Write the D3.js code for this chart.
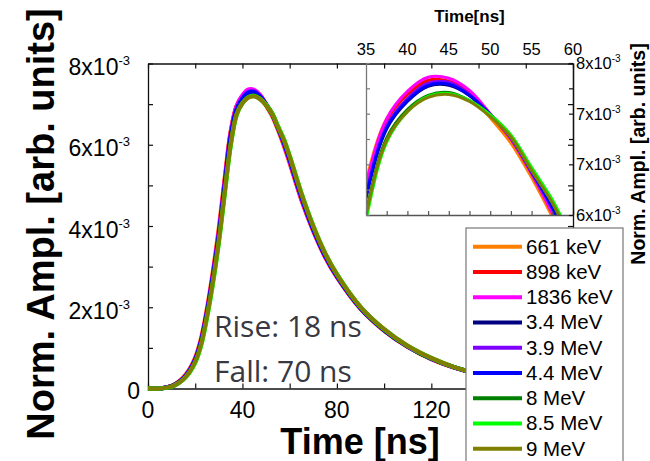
<!DOCTYPE html>
<html>
<head>
<meta charset="utf-8">
<script src="https://cdn.jsdelivr.net/npm/d3@7"></script>
<style>
  html, body { margin: 0; padding: 0; background: #fff; }
  svg { display: block; }
</style>
</head>
<body>
<svg id="chart" width="650" height="461"></svg>
<script>
// Pulse shapes of the detector response, normalised amplitude in units of 10^-3
const timeNs = [0, 5, 10, 12.5, 15, 17.5, 20, 22.5, 25, 27.5, 30, 32.5, 35, 37.5, 40, 42.5, 45, 47.5, 50,
  52.5, 55, 57.5, 60, 65, 70, 75, 80, 90, 100, 110, 120, 130, 140, 150, 160, 170, 180];

const amp661keV = [0, 0, 0.065, 0.15, 0.28, 0.47, 0.76, 1.25, 1.98, 2.90, 3.96, 5.19, 6.33, 6.95, 7.19, 7.32, 7.30, 7.18, 6.96,
  6.71, 6.37, 5.98, 5.54, 4.63, 3.87, 3.23, 2.74, 1.96, 1.42, 1.02, 0.72, 0.51, 0.355, 0.25, 0.175, 0.12, 0.085];
const amp898keV = [0, 0, 0.06, 0.14, 0.26, 0.45, 0.73, 1.20, 1.92, 2.82, 3.86, 5.10, 6.28, 6.93, 7.19, 7.33, 7.32, 7.21, 6.99,
  6.75, 6.41, 6.02, 5.58, 4.66, 3.89, 3.25, 2.75, 1.97, 1.43, 1.03, 0.73, 0.51, 0.355, 0.25, 0.175, 0.12, 0.085];
const amp1836keV = [0, 0, 0.06, 0.14, 0.26, 0.45, 0.73, 1.19, 1.91, 2.81, 3.85, 5.10, 6.29, 6.95, 7.22, 7.36, 7.35, 7.23, 7.00,
  6.75, 6.41, 6.02, 5.58, 4.66, 3.89, 3.25, 2.75, 1.97, 1.43, 1.03, 0.73, 0.51, 0.355, 0.25, 0.175, 0.12, 0.085];
const amp3_4MeV = [0, 0, 0.055, 0.13, 0.245, 0.43, 0.70, 1.15, 1.85, 2.73, 3.75, 4.97, 6.17, 6.85, 7.12, 7.27, 7.28, 7.18, 6.99,
  6.77, 6.44, 6.08, 5.65, 4.73, 3.93, 3.28, 2.77, 1.98, 1.44, 1.035, 0.735, 0.515, 0.357, 0.25, 0.177, 0.12, 0.087];
const amp3_9MeV = [0, 0, 0.056, 0.132, 0.248, 0.435, 0.71, 1.16, 1.87, 2.76, 3.78, 5.00, 6.20, 6.88, 7.15, 7.30, 7.31, 7.19, 6.99,
  6.76, 6.42, 6.06, 5.63, 4.71, 3.92, 3.27, 2.77, 1.98, 1.44, 1.035, 0.735, 0.515, 0.357, 0.25, 0.177, 0.12, 0.087];
const amp4_4MeV = [0, 0, 0.055, 0.13, 0.245, 0.43, 0.70, 1.15, 1.86, 2.74, 3.76, 4.98, 6.18, 6.86, 7.13, 7.28, 7.29, 7.18, 6.99,
  6.77, 6.43, 6.07, 5.64, 4.72, 3.93, 3.28, 2.77, 1.98, 1.44, 1.035, 0.735, 0.515, 0.357, 0.25, 0.177, 0.12, 0.087];
const amp8MeV = [0, 0, 0.05, 0.12, 0.23, 0.40, 0.66, 1.10, 1.80, 2.65, 3.66, 4.86, 6.02, 6.76, 7.04, 7.18, 7.21, 7.13, 6.98,
  6.77, 6.44, 6.12, 5.70, 4.78, 3.98, 3.32, 2.80, 2.00, 1.45, 1.04, 0.74, 0.52, 0.36, 0.25, 0.18, 0.12, 0.09];
const amp8_5MeV = [0, 0, 0.045, 0.11, 0.22, 0.38, 0.63, 1.05, 1.73, 2.57, 3.57, 4.77, 5.95, 6.72, 7.02, 7.17, 7.20, 7.13, 6.99,
  6.79, 6.47, 6.15, 5.74, 4.82, 4.01, 3.34, 2.82, 2.01, 1.46, 1.05, 0.75, 0.52, 0.36, 0.25, 0.18, 0.12, 0.09];
const amp9MeV = [0, 0, 0.05, 0.12, 0.23, 0.40, 0.66, 1.09, 1.79, 2.64, 3.64, 4.84, 6.00, 6.74, 7.02, 7.16, 7.19, 7.12, 6.97,
  6.77, 6.44, 6.12, 5.71, 4.79, 3.99, 3.33, 2.81, 2.01, 1.46, 1.05, 0.75, 0.52, 0.36, 0.25, 0.18, 0.12, 0.09];

const seriesLabels = ["661 keV", "898 keV", "1836 keV", "3.4 MeV", "3.9 MeV", "4.4 MeV", "8 MeV", "8.5 MeV", "9 MeV"];
const seriesValues = [amp661keV, amp898keV, amp1836keV, amp3_4MeV, amp3_9MeV, amp4_4MeV, amp8MeV, amp8_5MeV, amp9MeV];
const seriesColors = ["#ff8000", "#ff0000", "#ff00ff", "#000080", "#8000ff", "#0000ff", "#008000", "#00ff00", "#808000"];

const mainXTicks = [0, 40, 80, 120];
const mainXMinor = [0, 20, 40, 60, 80, 100, 120, 140, 160, 180];
const mainYTicks = [0, 2, 4, 6, 8];
const mainYMinor = [0, 1, 2, 3, 4, 5, 6, 7, 8];
const insetXTicks = [35, 40, 45, 50, 55, 60];
const insetXMinor = [35, 37.5, 40, 42.5, 45, 47.5, 50, 52.5, 55, 57.5, 60];
const insetYTicks = [6, 6.5, 7, 7.5];
const insetYMinor = [6, 6.25, 6.5, 6.75, 7, 7.25, 7.5];

const annotations = ["Rise: 18 ns", "Fall: 70 ns"];

const series = seriesLabels.map((label, i) => ({
  label,
  color: seriesColors[i],
  points: timeNs.map((t, j) => ({ t, v: seriesValues[i][j] }))
}));

const svg = d3.select("#chart");
const ARIAL = "'Liberation Sans', Arial, Helvetica, sans-serif";

// ---------- main panel ----------
const x = d3.scaleLinear().domain([0, 180]).range([148, 573]);
const y = d3.scaleLinear().domain([0, 8]).range([388.5, 63.5]);

const main = svg.append("g");

function styleAxis(g, color) {
  g.selectAll("path.domain").attr("stroke", color).attr("stroke-width", 1.3);
  g.selectAll(".tick line").attr("stroke", color).attr("stroke-width", 1.2);
  g.selectAll(".tick text").remove();
}

main.append("g").attr("transform", `translate(0,${y(0)})`)
  .call(d3.axisBottom(x).tickValues(mainXMinor).tickSizeInner(-5).tickSizeOuter(0).tickFormat(""))
  .call(g => styleAxis(g, "#111"));
main.append("g").attr("transform", `translate(0,${y(8)})`)
  .call(d3.axisTop(x).tickValues(mainXMinor).tickSizeInner(-5).tickSizeOuter(0).tickFormat(""))
  .call(g => styleAxis(g, "#111"));
main.append("g").attr("transform", `translate(${x(0)},0)`)
  .call(d3.axisLeft(y).tickValues(mainYMinor).tickSizeInner(-5).tickSizeOuter(0).tickFormat(""))
  .call(g => styleAxis(g, "#111"));
main.append("g").attr("transform", `translate(${x(180)},0)`)
  .call(d3.axisRight(y).tickValues(mainYMinor).tickSizeInner(-5).tickSizeOuter(0).tickFormat(""))
  .call(g => styleAxis(g, "#111"));

// x tick labels
main.append("g").selectAll("text").data(mainXTicks).join("text")
  .attr("x", d => x(d)).attr("y", 418)
  .attr("text-anchor", "middle")
  .attr("font-family", ARIAL).attr("font-size", 23).attr("fill", "#000")
  .text(d => d);

// y tick labels with power-of-ten notation
const yLab = main.append("g").selectAll("text").data(mainYTicks).join("text")
  .attr("x", d => d === 0 ? 140 : 130)
  .attr("y", d => y(d) + (d === 0 ? 10 : 11.5))
  .attr("text-anchor", "end")
  .attr("font-family", ARIAL).attr("font-size", 23).attr("fill", "#000");
yLab.each(function (d) {
  const t = d3.select(this);
  if (d === 0) { t.text("0"); return; }
  t.append("tspan").text(d + "x10");
  t.append("tspan").attr("font-size", 13).attr("dy", -10).text("-3");
});

// axis titles
svg.append("text")
  .attr("x", 360).attr("y", 454)
  .attr("text-anchor", "middle")
  .attr("font-family", ARIAL).attr("font-weight", "bold").attr("font-size", 36)
  .text("Time [ns]");
svg.append("text")
  .attr("transform", "translate(54,224) rotate(-90)")
  .attr("text-anchor", "middle")
  .attr("font-family", ARIAL).attr("font-weight", "bold").attr("font-size", 38)
  .text("Norm. Ampl. [arb. units]");

// main curves
const lineMain = d3.line().curve(d3.curveCatmullRom.alpha(0.5))
  .x(d => x(d.t)).y(d => y(d.v));
main.append("g").selectAll("path").data(series).join("path")
  .attr("d", d => lineMain(d.points))
  .attr("fill", "none")
  .attr("stroke", d => d.color)
  .attr("stroke-width", 4.2)
  .attr("stroke-linejoin", "round");

// rise / fall annotation
svg.append("g").selectAll("text").data(annotations).join("text")
  .attr("x", 214).attr("y", (d, i) => 337 + i * 45)
  .attr("font-family", "'Open Sans', Lato, sans-serif").attr("font-size", 30)
  .attr("fill", "#383842")
  .text(d => d);

// ---------- inset (zoom on the peak) ----------
const xi = d3.scaleLinear().domain([35, 60]).range([366, 573]);
const yi = d3.scaleLinear().domain([6, 7.5]).range([215, 63]);
const inset = svg.append("g");

svg.append("defs").append("clipPath").attr("id", "insetClip")
  .append("rect").attr("x", xi(35)).attr("y", yi(7.5))
  .attr("width", xi(60) - xi(35)).attr("height", yi(6) - yi(7.5));

const lineInset = d3.line().curve(d3.curveCatmullRom.alpha(0.5))
  .x(d => xi(d.t)).y(d => yi(d.v));
inset.append("g").attr("clip-path", "url(#insetClip)")
  .selectAll("path").data(series).join("path")
  .attr("d", d => lineInset(d.points))
  .attr("fill", "none")
  .attr("stroke", d => d.color)
  .attr("stroke-width", 3)
  .attr("stroke-linejoin", "round");

inset.append("g").attr("transform", `translate(0,${yi(6)})`)
  .call(d3.axisBottom(xi).tickValues(insetXMinor).tickSizeInner(-4).tickSizeOuter(0).tickFormat(""))
  .call(g => styleAxis(g, "#555"));
inset.append("g").attr("transform", `translate(${xi(35)},0)`)
  .call(d3.axisLeft(yi).tickValues(insetYMinor).tickSizeInner(-4).tickSizeOuter(0).tickFormat(""))
  .call(g => styleAxis(g, "#777"));
inset.append("g").attr("transform", `translate(${xi(60)},0)`)
  .call(d3.axisRight(yi).tickValues(insetYMinor).tickSizeInner(-4).tickSizeOuter(0).tickFormat(""))
  .call(g => styleAxis(g, "#111"));

// inset top labels
inset.append("g").selectAll("text").data(insetXTicks).join("text")
  .attr("x", d => xi(d)).attr("y", 55)
  .attr("text-anchor", "middle")
  .attr("font-family", ARIAL).attr("font-size", 16.5)
  .text(d => d);
inset.append("text")
  .attr("x", xi(47.5)).attr("y", 22)
  .attr("text-anchor", "middle")
  .attr("font-family", ARIAL).attr("font-weight", "bold").attr("font-size", 17)
  .text("Time[ns]");

// inset right labels (mantissa rounded to a whole number)
const fmt0 = d3.format(".0f");
const riLab = inset.append("g").selectAll("text").data(insetYTicks).join("text")
  .attr("x", 576).attr("y", d => yi(d) + 6)
  .attr("font-family", ARIAL).attr("font-size", 16.5);
riLab.each(function (d) {
  const t = d3.select(this);
  t.append("tspan").text(fmt0(d) + "x10");
  t.append("tspan").attr("font-size", 10).attr("dy", -7).text("-3");
});
svg.append("text")
  .attr("transform", "translate(645,154) rotate(-90)")
  .attr("text-anchor", "middle")
  .attr("font-family", ARIAL).attr("font-weight", "bold").attr("font-size", 19.5)
  .text("Norm. Ampl. [arb. units]");

// ---------- legend ----------
const legend = svg.append("g");
legend.append("rect")
  .attr("x", 466).attr("y", 228).attr("width", 157).attr("height", 250)
  .attr("fill", "#fff").attr("stroke", "#777").attr("stroke-width", 1.2);
const rows = legend.selectAll("g.row").data(series).join("g")
  .attr("class", "row")
  .attr("transform", (d, i) => `translate(0,${246.7 + i * 25.25})`);
rows.append("line")
  .attr("x1", 473).attr("x2", 522).attr("y1", 0).attr("y2", 0)
  .attr("stroke", d => d.color).attr("stroke-width", 4);
rows.append("text")
  .attr("x", 526).attr("y", 7)
  .attr("font-family", ARIAL).attr("font-size", 20.5)
  .text(d => d.label);
</script>
</body>
</html>
